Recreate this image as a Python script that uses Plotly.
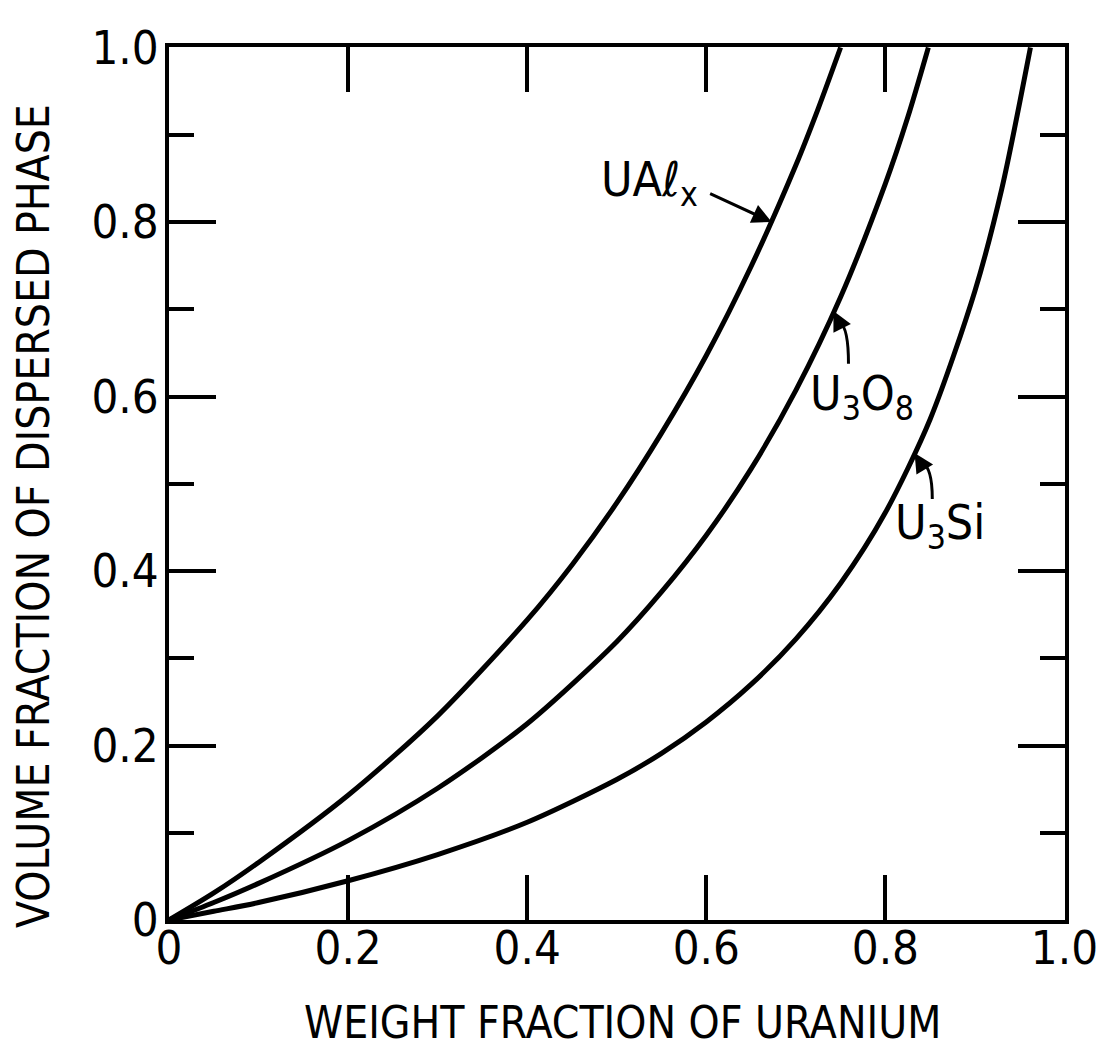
import plotly.graph_objects as go

# Data (weight fraction of uranium vs volume fraction of dispersed phase)
ualx_w = [0.0, 0.05, 0.1, 0.2, 0.3, 0.4, 0.45, 0.5, 0.55, 0.6, 0.65, 0.7, 0.725, 0.75]
ualx_v = [0.0, 0.031, 0.066, 0.143, 0.234, 0.344, 0.407, 0.478, 0.558, 0.647, 0.749, 0.865, 0.930, 1.0]

u3o8_w = [0.0, 0.05, 0.1, 0.2, 0.3, 0.4, 0.5, 0.55, 0.6, 0.65, 0.7, 0.75, 0.8, 0.825, 0.848]
u3o8_v = [0.0, 0.020, 0.042, 0.091, 0.151, 0.225, 0.319, 0.376, 0.441, 0.517, 0.607, 0.714, 0.844, 0.920, 1.0]

u3si_w = [0.0, 0.05, 0.1, 0.2, 0.3, 0.4, 0.5, 0.55, 0.6, 0.65, 0.7, 0.75, 0.8, 0.85, 0.9, 0.93, 0.962]
u3si_v = [0.0, 0.010, 0.020, 0.045, 0.075, 0.112, 0.161, 0.191, 0.227, 0.270, 0.322, 0.386, 0.467, 0.574, 0.721, 0.838, 1.0]

x_ticks = [0, 0.2, 0.4, 0.6, 0.8, 1.0]
x_tick_text = ["0", "0.2", "0.4", "0.6", "0.8", "1.0"]
y_ticks = [0, 0.2, 0.4, 0.6, 0.8, 1.0]
y_tick_text = ["0", "0.2", "0.4", "0.6", "0.8", "1.0"]

FONT = "Liberation Sans Narrow, DejaVu Sans Condensed, Arial Narrow, sans-serif"
INK = "#000000"

fig = go.Figure()
for w, v in [(ualx_w, ualx_v), (u3o8_w, u3o8_v), (u3si_w, u3si_v)]:
    fig.add_trace(go.Scatter(x=w, y=v, mode="lines",
                             line=dict(color=INK, width=5, shape="spline", smoothing=0.8),
                             showlegend=False, hoverinfo="skip"))

axis_common = dict(
    range=[0, 1.0006], showgrid=False, zeroline=False,
    showline=True, linecolor=INK, linewidth=4, mirror="ticks",
    ticks="inside", tickcolor=INK, tickwidth=3.5,
    tickfont=dict(family=FONT, size=47, color=INK),
    tickmode="array", ticklabeloverflow="allow",
)

fig.update_xaxes(**axis_common, tickvals=x_ticks, ticktext=x_tick_text, ticklen=45,
                 ticklabelstandoff=-16)
fig.update_yaxes(**axis_common, tickvals=y_ticks, ticktext=y_tick_text, ticklen=47,
                 ticklabelstandoff=-3,
                 minor=dict(dtick=0.1, tick0=0, ticks="inside", ticklen=25,
                            tickwidth=3.5, tickcolor=INK, showgrid=False))

# Axis titles
title_font = dict(family=FONT, size=44, color=INK)
fig.add_annotation(text="WEIGHT FRACTION OF URANIUM", xref="paper", yref="paper",
                   x=0.5066, y=-0.1178, xanchor="center", yanchor="middle",
                   showarrow=False, font=title_font)
fig.add_annotation(text="VOLUME FRACTION OF DISPERSED PHASE", xref="paper", yref="paper",
                   x=-0.151, y=0.4624, xanchor="center", yanchor="middle", textangle=-90,
                   showarrow=False, font=title_font)

# Curve labels
lab_font = dict(family=FONT, size=48, color=INK)
fig.add_annotation(text="UAℓ<sub>x</sub>", x=0.5925, y=0.845, xanchor="right", yanchor="middle",
                   showarrow=False, font=lab_font)
fig.add_annotation(text="U<sub>3</sub>O<sub>8</sub>", x=0.7137, y=0.600, xanchor="left",
                   yanchor="middle", showarrow=False, font=lab_font)
fig.add_annotation(text="U<sub>3</sub>Si", x=0.808, y=0.452, xanchor="left",
                   yanchor="middle", showarrow=False, font=lab_font)

# Label arrows (UAlx straight; U3O8 and U3Si curved hooks)
arrow_style = dict(text="", showarrow=True, arrowhead=2, arrowsize=1.3, arrowwidth=3,
                   arrowcolor=INK, axref="pixel", ayref="pixel", standoff=0, startstandoff=0)
fig.add_annotation(x=0.673, y=0.80, ax=-63, ay=-29, **arrow_style)
fig.add_annotation(x=0.742, y=0.698, ax=7, ay=14, **arrow_style)
fig.add_annotation(x=0.8326, y=0.5354, ax=8, ay=13, **arrow_style)
fig.add_shape(type="path", xref="x", yref="y",
              path="M 0.7588 0.6375 Q 0.7588 0.6780 0.7495 0.6850",
              line=dict(color=INK, width=3))
fig.add_shape(type="path", xref="x", yref="y",
              path="M 0.8524 0.4826 Q 0.8524 0.5190 0.8410 0.5240",
              line=dict(color=INK, width=3))

fig.update_layout(
    width=1102, height=1043, autosize=False,
    margin=dict(l=161, r=33, t=21, b=131),
    paper_bgcolor="white", plot_bgcolor="white",
    font=dict(family=FONT, color=INK),
)

fig.write_html("out.html", config={"displayModeBar": False})
